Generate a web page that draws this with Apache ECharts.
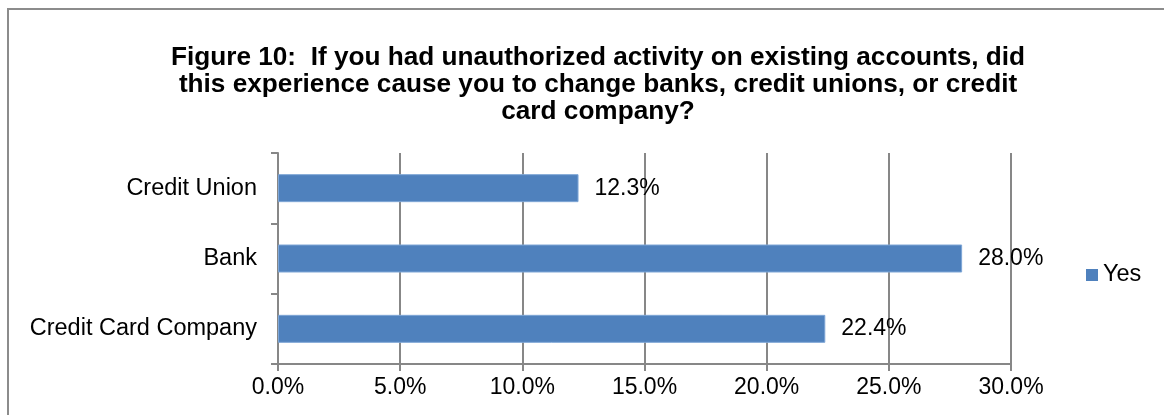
<!DOCTYPE html>
<html>
<head>
<meta charset="utf-8">
<script src="https://cdn.jsdelivr.net/npm/echarts@6/dist/echarts.min.js"></script>
<style>
  html, body { margin: 0; padding: 0; background: #fff; }
  #chart { width: 1164px; height: 415px; }
</style>
</head>
<body>
<div id="chart"></div>
<script>
// Survey answers, listed top to bottom
const categories = ['Credit Union', 'Bank', 'Credit Card Company'];
const yesValues = [12.3, 28.0, 22.4];
const seriesName = 'Yes';
const titleText = 'Figure 10:  If you had unauthorized activity on existing accounts, did\nthis experience cause you to change banks, credit unions, or credit\ncard company?';

const FONT = '"Liberation Sans", Arial, sans-serif';
const GRID_COLOR = '#878787';
const BAR_COLOR = '#4F81BD';
const LABEL_SIZE = 23.5;
const NUMBER_SIZE = 23;

const chart = echarts.init(document.getElementById('chart'));
chart.setOption({
  animation: false,
  textStyle: { fontFamily: FONT },
  graphic: [
    {
      type: 'rect',
      shape: { x: 8, y: 9, width: 1300, height: 600 },
      style: { fill: 'none', stroke: '#8c8c8c', lineWidth: 2 },
      silent: true
    },
    {
      type: 'text',
      x: 598,
      y: 44,
      style: {
        text: titleText,
        fill: '#000',
        font: 'bold 26.2px ' + FONT,
        textAlign: 'center',
        lineHeight: 27
      }
    }
  ],
  legend: {
    data: [seriesName],
    left: 1086,
    top: 263,
    padding: 0,
    orient: 'vertical',
    itemWidth: 12,
    itemHeight: 12,
    icon: 'rect',
    itemStyle: { color: BAR_COLOR, borderWidth: 0 },
    textStyle: { fontSize: LABEL_SIZE, color: '#000', fontFamily: FONT }
  },
  grid: { left: 278, right: 153, top: 153, bottom: 51, containLabel: false },
  xAxis: {
    type: 'value',
    min: 0,
    max: 30,
    interval: 5,
    axisLine: { show: true, lineStyle: { color: GRID_COLOR, width: 2 } },
    axisTick: { show: true, length: 7, lineStyle: { color: GRID_COLOR, width: 2 } },
    splitLine: { show: true, lineStyle: { color: GRID_COLOR, width: 2 } },
    axisLabel: {
      formatter: v => v.toFixed(1) + '%',
      fontSize: NUMBER_SIZE,
      color: '#000',
      margin: 12,
      fontFamily: FONT
    }
  },
  yAxis: {
    type: 'category',
    data: categories,
    inverse: true,
    axisLine: { show: true, lineStyle: { color: GRID_COLOR, width: 2 } },
    axisTick: { show: true, length: 7, lineStyle: { color: GRID_COLOR, width: 2 } },
    axisLabel: { fontSize: LABEL_SIZE, color: '#000', margin: 21, fontFamily: FONT }
  },
  series: [{
    name: seriesName,
    type: 'bar',
    data: yesValues,
    barWidth: 28,
    itemStyle: { color: BAR_COLOR, borderColor: '#7ea6d6', borderWidth: 1 },
    label: {
      show: true,
      position: 'right',
      distance: 16,
      formatter: p => p.value.toFixed(1) + '%',
      fontSize: NUMBER_SIZE,
      color: '#000',
      fontFamily: FONT
    }
  }]
});
</script>
</body>
</html>
